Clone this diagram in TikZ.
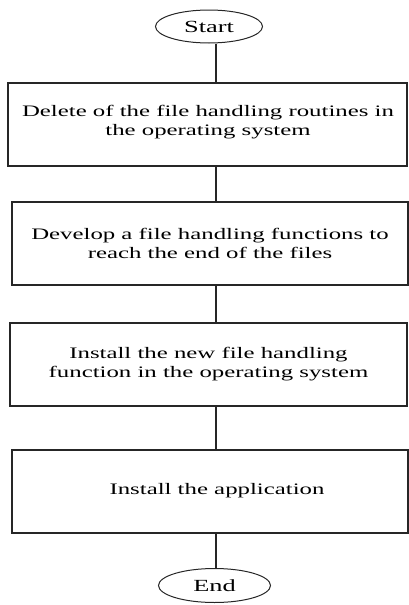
\documentclass[tikz,border=0pt]{standalone}
\usepackage{fontspec}
\setmainfont[FakeStretch=1.55]{Liberation Serif}
\usetikzlibrary{shapes.geometric}
\begin{document}
\begin{tikzpicture}[x=1pt,y=-1pt,
  txt/.style={align=center,font=\fontsize{16}{19}\selectfont},
  stepbox/.style={txt,draw=black!85,line width=1.2pt,rectangle,minimum height=83pt,inner sep=0pt},
  term/.style={draw=black!85,line width=1pt,ellipse,inner sep=0pt,font=\fontsize{17}{20}\selectfont},
  conn/.style={draw=black!85,line width=1.2pt}]
\useasboundingbox (0,0) rectangle (408,605);
\coordinate (ax) at (216,0);
\node[term,minimum width=107pt,minimum height=33pt] (start) at (209,26.5) {Start};
\node[stepbox,minimum width=399pt] (b1) at (207.5,124.5) {};
\node[txt] (t1) at (208,122) {Delete of the file handling routines in\\the operating system};
\node[stepbox,minimum width=396pt] (b2) at (210,243.5) {Develop a file handling functions to\\reach the end of the files};
\node[stepbox,minimum width=397pt] (b3) at (208.5,364.5) {Install the new file handling\\function in the operating system};
\node[stepbox,minimum width=396pt] (b4) at (210,491.5) {};
\node[txt] (t4) at (217,490.5) {Install the application};
\node[term,minimum width=112pt,minimum height=34pt] (end) at (214.5,585.5) {End};
\draw[conn] (ax |- start.south) -- (ax |- b1.north);
\draw[conn] (ax |- b1.south) -- (ax |- b2.north);
\draw[conn] (ax |- b2.south) -- (ax |- b3.north);
\draw[conn] (ax |- b3.south) -- (ax |- b4.north);
\draw[conn] (ax |- b4.south) -- (ax |- end.north);
\end{tikzpicture}
\end{document}
